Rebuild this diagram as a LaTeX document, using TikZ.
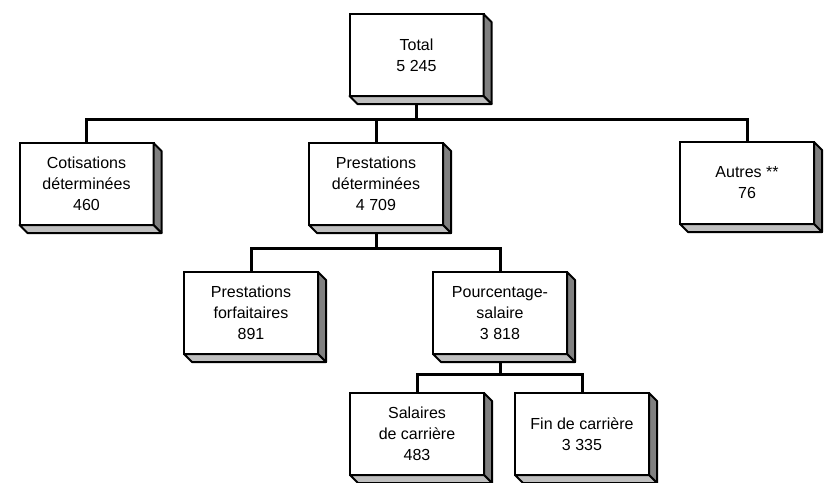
\documentclass[tikz,border=0pt]{standalone}
\usepackage{fontspec}
\setmainfont{Liberation Sans}
\usetikzlibrary{positioning,calc,backgrounds}
\tikzset{
	block/.style = {draw, fill=white, rectangle, line width=1.5pt, outer sep=0pt, inner sep=0pt,
		minimum height=61.5pt, minimum width=100.5pt, align=center,
		font=\fontsize{12}{15.75}\selectfont},
	link/.style  = {line width=2.25pt},
	side/.style  = {draw, line width=1.5pt, line join=round, fill=black!50},
	floor/.style = {draw, line width=1.5pt, line join=round, fill=black!25}
}
% relief sous et a droite d'un bloc
\newcommand{\relief}[1]{%
	\draw[side] (#1.north east) -- ($(#1.north east)+(8,8)$) -- ($(#1.south east)+(8,8)$) -- (#1.south east) -- cycle;
	\draw[floor] (#1.south west) -- (#1.south east) -- ($(#1.south east)+(8,8)$) -- ($(#1.south west)+(8,8)$) -- cycle;
}
\begin{document}
\begin{tikzpicture}[x=0.75pt,y=-0.75pt]
		\useasboundingbox (0,0) rectangle (824,482);

		\node [block] (total) at (416.5,55) {Total\\5 245};
		\node [block] (cot) at (86.5,184) {Cotisations\\déterminées\\460};
		\node [block] (pd) at (376,184) {Prestations\\déterminées\\4 709};
		\node [block] (autres) at (747,183) {Autres **\\76};
		\node [block] (pf) at (251,313) {Prestations\\forfaitaires\\891};
		\node [block] (ps) at (500,313) {Pourcentage-\\salaire\\3 818};
		\node [block] (sc) at (417,434) {Salaires\\de carrière\\483};
		\node [block] (fc) at (582,434) {Fin de carrière\\3 335};

		\foreach \b in {total,cot,pd,autres,pf,ps,sc,fc}
			{\relief{\b}}

		\begin{scope}[on background layer]
			\draw [link] (total) -- ++(0,64) -| (cot);
			\draw [link] (total) -- ++(0,64) -| (pd);
			\draw [link] (total) -- ++(0,64) -| (autres);
			\draw [link] (pd) -- ++(0,64) -| (pf);
			\draw [link] (pd) -- ++(0,64) -| (ps);
			\draw [link] (ps) -- ++(0,61) -| (sc);
			\draw [link] (ps) -- ++(0,61) -| (fc);
		\end{scope}
	\end{tikzpicture}
\end{document}
